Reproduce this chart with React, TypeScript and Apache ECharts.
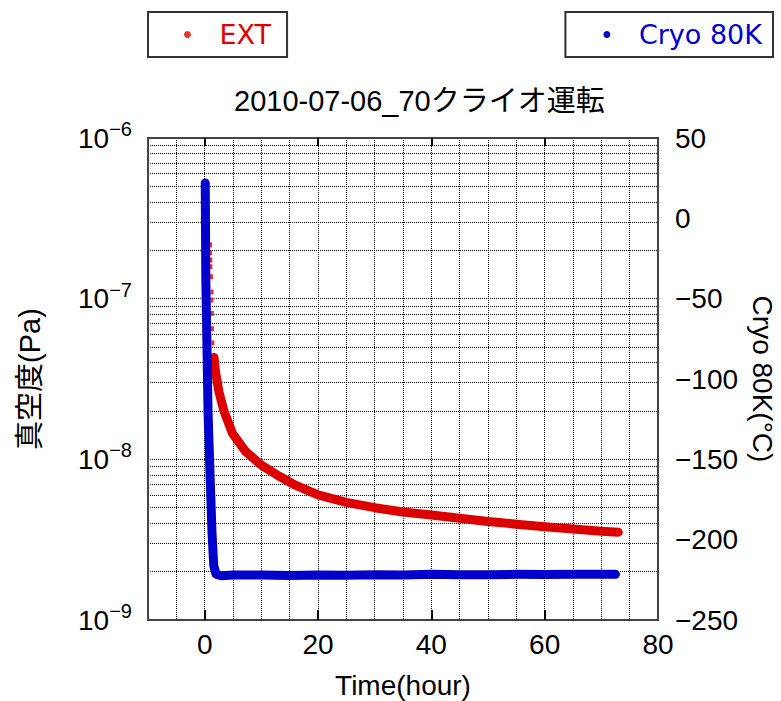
import React, { useEffect, useRef } from 'react';
import * as echarts from 'echarts';

const FONT = "'Liberation Sans', 'Noto Sans CJK JP', sans-serif";
const LEGEND_FONT = "'DejaVu Sans', 'Liberation Sans', sans-serif";
const RED = '#dd0000';
const BLUE = '#0000cc';

const titleText = '2010-07-06_70クライオ運転';
const xName = 'Time(hour)';
const yLeftName = '真空度(Pa)';
const yRightName = 'Cryo 80K(°C)';

const xTickLabels = [0, 20, 40, 60, 80];
const xTickMarks = [0, 20, 40, 60];
const pressureDecades = [1e-9, 1e-8, 1e-7, 1e-6];
const gridMultipliers = [1, 2, 3, 4, 5, 6, 7, 8, 9];

// EXT: early sparse readings
const extDotTime = [0, 1.05, 1.05, 1.1, 1.1, 1.2, 1.3, 1.3, 1.35, 1.4, 1.45];
const extDotPressure = [3.9e-7, 2.16e-7, 1.93e-7, 1.74e-7, 1.58e-7, 1.37e-7, 1.1e-7, 9.8e-8, 8.1e-8, 6.5e-8, 5.3e-8];

// EXT: dense readings (band)
const extTime = [1.65, 1.95, 2.5, 3.4, 4.9, 7.2, 10, 13, 16, 20, 25, 30, 35, 40, 45, 50, 55, 60, 65, 70, 73];
const extPressure = [4.3e-8, 3.45e-8, 2.65e-8, 2.0e-8, 1.45e-8, 1.12e-8, 9.2e-9, 7.9e-9, 6.9e-9, 6.0e-9, 5.4e-9, 5.0e-9, 4.7e-9, 4.5e-9, 4.3e-9, 4.1e-9, 3.95e-9, 3.8e-9, 3.68e-9, 3.57e-9, 3.52e-9];

// Cryo 80K temperature
const cryoTime = [0.1, 0.2, 0.6, 1.0, 1.3, 1.6, 2.0, 3, 5, 10, 15, 20, 25, 30, 35, 40, 45, 50, 55, 60, 65, 70, 72.5];
const cryoTemp = [22, -36, -121, -165, -196, -216, -221.5, -222.5, -222, -222, -222.3, -222, -222.2, -221.8, -222, -221.5, -221.8, -221.8, -221.6, -221.7, -221.5, -221.6, -221.6];

const pressureGrid = pressureDecades.flatMap((d) => gridMultipliers.map((m) => m * d)).filter((v) => v <= 1.0000001e-6);

const dotted = { type: [1, 1] as number[], color: '#000', width: 1 };
const boxLine = { show: true, onZero: false, lineStyle: { color: '#444', width: 2 } };

export default function App() {
  const ref = useRef<HTMLDivElement>(null);
  useEffect(() => {
    if (!ref.current) return;
    const chart = echarts.init(ref.current, null, { renderer: 'svg' });
    const legendCommon = {
      top: 12,
      orient: 'horizontal',
      itemWidth: 54,
      itemHeight: 7,
      borderColor: '#333',
      borderWidth: 2,
      selectedMode: false,
      textStyle: { fontSize: 27, fontFamily: LEGEND_FONT },
    };
    chart.setOption({
      animation: false,
      backgroundColor: '#fff',
      textStyle: { fontFamily: FONT },
      title: {
        text: titleText,
        left: 229,
        top: 81,
        textStyle: { fontSize: 29, fontWeight: 'normal', color: '#000', fontFamily: FONT },
      },
      legend: [
        { ...legendCommon, left: 148, padding: [9, 16, 9, 36], data: [{ name: 'EXT', icon: 'circle', textStyle: { color: RED } }] },
        { ...legendCommon, right: 8, padding: [9, 11, 9, 38], data: [{ name: 'Cryo 80K', icon: 'circle', textStyle: { color: BLUE } }] },
      ],
      grid: { left: 148, right: 123, top: 138, bottom: 81, containLabel: false, outerBoundsMode: 'none' },
      xAxis: [
        {
          type: 'value', min: -10, max: 80, interval: 5, position: 'bottom',
          axisLine: boxLine,
          axisTick: { show: false },
          axisLabel: { customValues: xTickLabels, fontSize: 28, color: '#000', margin: 10, fontFamily: FONT },
          splitLine: { show: true, lineStyle: dotted },
          name: xName, nameLocation: 'middle', nameGap: 51,
          nameTextStyle: { fontSize: 28, lineHeight: 28, color: '#000', fontFamily: FONT },
        },
        {
          type: 'value', min: -10, max: 80, position: 'top',
          axisLine: boxLine,
          axisTick: { show: true, customValues: xTickMarks, inside: true, length: 8, lineStyle: { color: '#000', width: 2 } },
          axisLabel: { show: false },
          splitLine: { show: false },
        },
        {
          type: 'value', min: -10, max: 80, position: 'bottom',
          axisLine: { show: false, onZero: false },
          axisTick: { show: true, customValues: xTickMarks, inside: true, length: 10, lineStyle: { color: '#000', width: 2 } },
          axisLabel: { show: false },
          splitLine: { show: false },
        },
      ],
      yAxis: [
        {
          type: 'log', logBase: 10, min: 1e-9, max: 1e-6, position: 'left',
          axisLine: boxLine,
          axisTick: { show: false, customValues: pressureGrid },
          axisLabel: {
            customValues: pressureDecades,
            margin: 16,
            color: '#000',
            formatter: (v: number) => {
              const e = Math.round(Math.log10(v));
              return `{b|10}{s|${e < 0 ? '−' : ''}${Math.abs(e)}}`;
            },
            rich: {
              b: { fontSize: 28, lineHeight: 28, fontFamily: FONT, color: '#000', verticalAlign: 'bottom' },
              s: { fontSize: 20, lineHeight: 20, fontFamily: FONT, color: '#000', verticalAlign: 'bottom', padding: [0, 0, 13, 0] },
            },
          },
          splitLine: { show: true, lineStyle: dotted },
          name: yLeftName, nameLocation: 'middle', nameGap: 104, nameRotate: 90,
          nameTextStyle: { fontSize: 29, color: '#000', fontFamily: FONT },
        },
        {
          type: 'value', min: -250, max: 50, interval: 50, position: 'right',
          axisLine: boxLine,
          axisTick: { show: false },
          axisLabel: {
            margin: 17, fontSize: 28, color: '#000', fontFamily: FONT,
            formatter: (v: number) => String(v).replace('-', '−'),
          },
          splitLine: { show: false },
          name: yRightName, nameLocation: 'middle', nameGap: 90, nameRotate: -90,
          nameTextStyle: { fontSize: 28, color: '#000', fontFamily: FONT },
        },
      ],
      series: [
        {
          name: 'EXT', type: 'scatter', xAxisIndex: 0, yAxisIndex: 0,
          data: extDotTime.map((t, i) => [t, extDotPressure[i]]),
          symbol: 'rect', symbolSize: [3, 5], itemStyle: { color: RED }, silent: true,
        },
        {
          name: 'EXT', type: 'line', xAxisIndex: 0, yAxisIndex: 0,
          data: extTime.map((t, i) => [t, extPressure[i]]),
          symbol: 'none', showSymbol: false, silent: true,
          itemStyle: { color: RED },
          lineStyle: { color: RED, width: 9, cap: 'round', join: 'round' },
        },
        {
          name: 'Cryo 80K', type: 'line', xAxisIndex: 0, yAxisIndex: 1,
          data: cryoTime.map((t, i) => [t, cryoTemp[i]]),
          symbol: 'none', showSymbol: false, silent: true,
          itemStyle: { color: BLUE },
          lineStyle: { color: BLUE, width: 9, cap: 'round', join: 'round' },
        },
      ],
    });
    return () => chart.dispose();
  }, []);
  return <div ref={ref} style={{ position: 'absolute', left: 0, top: 0, width: 781, height: 701 }} />;
}
